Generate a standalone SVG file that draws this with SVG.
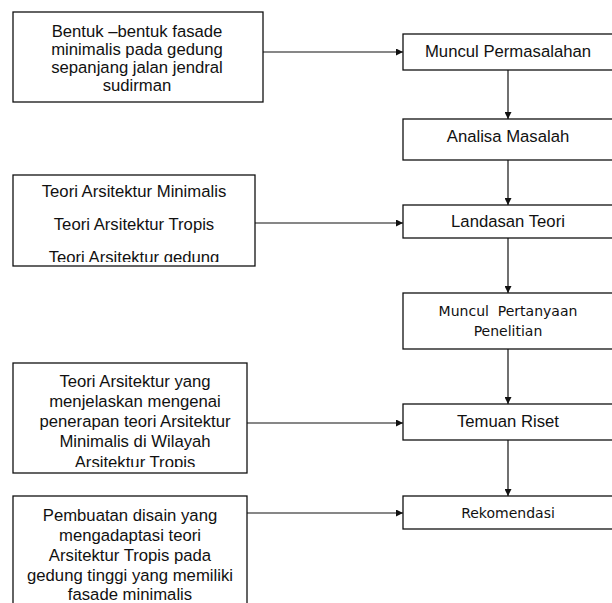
<svg xmlns="http://www.w3.org/2000/svg" width="612" height="603" viewBox="0 0 612 603">
<style>
.box{fill:#fff;stroke:#111;stroke-width:1.3}
.t{font-family:"Liberation Sans",Arial,sans-serif;font-size:16.7px;fill:#111;text-anchor:middle}
.c{font-family:"DejaVu Sans",Verdana,sans-serif;font-size:14px;fill:#111;text-anchor:middle}
.ln{stroke:#111;stroke-width:1.2;fill:none}
</style>
<defs>
<marker id="ah" viewBox="0 0 10 10" refX="10" refY="5" markerWidth="8" markerHeight="7" markerUnits="userSpaceOnUse" orient="auto">
<path d="M0,0 L10,5 L0,10 Z" fill="#111"/>
</marker>
<clipPath id="clipB2"><rect x="13" y="175" width="242" height="87"/></clipPath>
<clipPath id="clipB3"><rect x="13" y="363" width="234" height="104"/></clipPath>
</defs>
<rect width="612" height="603" fill="#fff"/>
<g id="connectors">
<line class="ln" x1="263" y1="52" x2="403" y2="52" marker-end="url(#ah)"/>
<line class="ln" x1="255" y1="223" x2="403" y2="223" marker-end="url(#ah)"/>
<line class="ln" x1="247" y1="423" x2="403" y2="423" marker-end="url(#ah)"/>
<line class="ln" x1="247" y1="513" x2="403" y2="513" marker-end="url(#ah)"/>
<line class="ln" x1="508" y1="70" x2="508" y2="119" marker-end="url(#ah)"/>
<line class="ln" x1="508" y1="160" x2="508" y2="205" marker-end="url(#ah)"/>
<line class="ln" x1="508" y1="238" x2="508" y2="293" marker-end="url(#ah)"/>
<line class="ln" x1="508" y1="349" x2="508" y2="404" marker-end="url(#ah)"/>
<line class="ln" x1="508" y1="440" x2="508" y2="496" marker-end="url(#ah)"/>
</g>
<g id="box-bentuk">
<rect class="box" x="13" y="12" width="250" height="90"/>
<text class="t" x="137" y="37">Bentuk –bentuk fasade</text>
<text class="t" x="137" y="55">minimalis pada gedung</text>
<text class="t" x="137" y="73">sepanjang jalan jendral</text>
<text class="t" x="137" y="91">sudirman</text>
</g>
<g id="box-teori">
<rect class="box" x="13" y="175" width="242" height="91"/>
<g clip-path="url(#clipB2)">
<text class="t" x="134" y="197">Teori Arsitektur Minimalis</text>
<text class="t" x="134" y="230">Teori Arsitektur Tropis</text>
<text class="t" x="134" y="263">Teori Arsitektur gedung</text>
</g>
</g>
<g id="box-teori-penerapan">
<rect class="box" x="13" y="363" width="234" height="110"/>
<g clip-path="url(#clipB3)">
<text class="t" x="135" y="387">Teori Arsitektur yang</text>
<text class="t" x="135" y="407">menjelaskan mengenai</text>
<text class="t" x="135" y="427">penerapan teori Arsitektur</text>
<text class="t" x="135" y="447">Minimalis di Wilayah</text>
<text class="t" x="135" y="468">Arsitektur Tropis</text>
</g>
</g>
<g id="box-pembuatan">
<rect class="box" x="13" y="496" width="234" height="120"/>
<text class="t" x="130" y="521">Pembuatan disain yang</text>
<text class="t" x="130" y="541">mengadaptasi teori</text>
<text class="t" x="130" y="561">Arsitektur Tropis pada</text>
<text class="t" x="130" y="581">gedung tinggi yang memiliki</text>
<text class="t" x="130" y="600">fasade minimalis</text>
</g>
<g id="node-muncul-permasalahan">
<rect class="box" x="403" y="34" width="212" height="36"/>
<text class="t" x="508" y="57">Muncul Permasalahan</text>
</g>
<g id="node-analisa">
<rect class="box" x="403" y="119" width="212" height="41"/>
<text class="t" x="508" y="142">Analisa Masalah</text>
</g>
<g id="node-landasan">
<rect class="box" x="403" y="205" width="212" height="33"/>
<text class="t" x="508" y="227">Landasan Teori</text>
</g>
<g id="node-pertanyaan">
<rect class="box" x="403" y="293" width="212" height="56"/>
<text class="c" x="508" y="315.5" xml:space="preserve">Muncul  Pertanyaan</text>
<text class="c" x="508" y="335.5">Penelitian</text>
</g>
<g id="node-temuan">
<rect class="box" x="403" y="404" width="212" height="36"/>
<text class="t" x="508" y="426.5">Temuan Riset</text>
</g>
<g id="node-rekomendasi">
<rect class="box" x="403" y="496" width="212" height="33"/>
<text class="c" x="508" y="518">Rekomendasi</text>
</g>
</svg>
